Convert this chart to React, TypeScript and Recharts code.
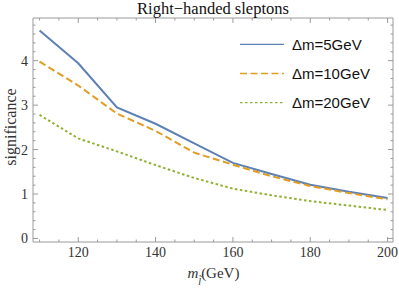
import React from "react";
import { LineChart, Line, XAxis, YAxis, Legend } from "recharts";

const masses = [110, 120, 130, 140, 150, 160, 170, 180, 190, 200];
const dm5 = [4.68, 3.94, 2.95, 2.58, 2.14, 1.7, 1.45, 1.21, 1.05, 0.91];
const dm10 = [3.98, 3.44, 2.81, 2.42, 1.93, 1.66, 1.4, 1.18, 1.02, 0.88];
const dm20 = [2.78, 2.25, 1.96, 1.65, 1.36, 1.12, 0.97, 0.84, 0.74, 0.64];

const xMajor = [120, 140, 160, 180, 200];
const xMinor = [110, 115, 125, 130, 135, 145, 150, 155, 165, 170, 175, 185, 190, 195];
const yMajor = [0, 1, 2, 3, 4];
const yMinor = [0.2, 0.4, 0.6, 0.8, 1.2, 1.4, 1.6, 1.8, 2.2, 2.4, 2.6, 2.8, 3.2, 3.4, 3.6, 3.8, 4.2, 4.4, 4.6, 4.8];

const seriesNames = ["Δm=5GeV", "Δm=10GeV", "Δm=20GeV"];
const seriesColors = ["#5E81B5", "#E19C24", "#8FB032"];
const seriesDash = ["", "7 3.5", "2.5 2.5"];
const titleText = "Right\u2212handed sleptons";
const yLabelText = "significance";

const data = masses.map((m, i) => ({ m, a: dm5[i], b: dm10[i], c: dm20[i] }));

const FRAME = "#9a9a9a";
const TICKTXT = "#333";
const SERIF = "'Liberation Serif', 'DejaVu Serif', serif";
const SANS = "'Liberation Sans', Arial, sans-serif";

const xTicks = [...xMajor, ...xMinor].sort((a, b) => a - b);
const yTicks = [...yMajor, ...yMinor].sort((a, b) => a - b);

const makeTick = (side: "bottom" | "top" | "left" | "right") => (props: any) => {
  const { x, y, payload } = props;
  const v = payload.value;
  const isMajor = side === "bottom" || side === "top" ? xMajor.includes(v) : yMajor.includes(v);
  const len = isMajor ? 5 : 2.5;
  let line;
  if (side === "bottom") line = <line x1={x} x2={x} y1={y} y2={y - len} stroke={FRAME} />;
  else if (side === "top") line = <line x1={x} x2={x} y1={y} y2={y + len} stroke={FRAME} />;
  else if (side === "left") line = <line x1={x} x2={x + len} y1={y} y2={y} stroke={FRAME} />;
  else line = <line x1={x} x2={x - len} y1={y} y2={y} stroke={FRAME} />;
  let label = null;
  if (isMajor && side === "bottom")
    label = (
      <text x={x} y={y + 14.8} textAnchor="middle" fontFamily={SERIF} fontSize={14} fill={TICKTXT}>
        {v}
      </text>
    );
  if (isMajor && side === "left")
    label = (
      <text x={x - 5} y={y + 5} textAnchor="end" fontFamily={SERIF} fontSize={14} fill={TICKTXT}>
        {v}
      </text>
    );
  return (
    <g>
      {line}
      {label}
    </g>
  );
};

const XLabel = (props: any) => {
  const vb = props.viewBox || {};
  const cx = (vb.x || 0) + (vb.width || 0) / 2;
  const y = (vb.y || 0) + 36;
  return (
    <text x={cx - 25.5} y={y} fontFamily={SERIF} fontSize={15} fill={TICKTXT}>
      <tspan fontStyle="italic">m</tspan>
      <tspan fontStyle="italic" fontSize={10} dy={7}>{"l\u0303"}</tspan>
      <tspan dy={-7}>(GeV)</tspan>
    </text>
  );
};

const YLabel = (props: any) => {
  const vb = props.viewBox || {};
  const cy = (vb.y || 0) + (vb.height || 0) / 2 - 3;
  return (
    <text
      x={0}
      y={0}
      transform={`translate(16, ${cy}) rotate(-90)`}
      textAnchor="middle"
      fontFamily={SERIF}
      fontSize={16}
      fill={TICKTXT}
    >
      {yLabelText}
    </text>
  );
};

const Overlay = () => (
  <svg width={399} height={290} style={{ position: "absolute", left: 0, top: 0, pointerEvents: "none" }}>
    <text x={213} y={14} textAnchor="middle" fontFamily={SERIF} fontSize={16.5} fill="#111">
      {titleText}
    </text>
    {seriesNames.map((n, i) => (
      <g key={n}>
        <line
          x1={240}
          x2={284}
          y1={44.3 + i * 29.2}
          y2={44.3 + i * 29.2}
          stroke={seriesColors[i]}
          strokeWidth={1.3}
          strokeDasharray={seriesDash[i] || undefined}
        />
        <text x={292} y={49.5 + i * 29.2} fontFamily={SANS} fontSize={15} fill="#111">
          {n}
        </text>
      </g>
    ))}
  </svg>
);

export default function App() {
  return (
    <div style={{ position: "absolute", left: 0, top: 0, width: 399, height: 290 }}>
      <LineChart width={399} height={290} data={data} margin={{ top: 17, right: 5, bottom: 47, left: 32 }}>
        <XAxis
          dataKey="m"
          type="number"
          domain={[108.3, 201.4]}
          allowDataOverflow
          ticks={xTicks}
          interval={0}
          tickSize={0}
          tickMargin={0}
          tickLine={false}
          height={1}
          axisLine={{ stroke: FRAME }}
          tick={makeTick("bottom")}
          label={<XLabel />}
        />
        <XAxis
          xAxisId="top"
          orientation="top"
          dataKey="m"
          type="number"
          domain={[108.3, 201.4]}
          allowDataOverflow
          ticks={xTicks}
          interval={0}
          tickSize={0}
          tickMargin={0}
          tickLine={false}
          height={1}
          axisLine={{ stroke: FRAME }}
          tick={makeTick("top")}
        />
        <YAxis
          type="number"
          domain={[-0.08, 4.96]}
          allowDataOverflow
          ticks={yTicks}
          interval={0}
          tickSize={0}
          tickMargin={0}
          tickLine={false}
          width={1}
          axisLine={{ stroke: FRAME }}
          tick={makeTick("left")}
          label={<YLabel />}
        />
        <YAxis
          yAxisId="right"
          orientation="right"
          type="number"
          domain={[-0.08, 4.96]}
          allowDataOverflow
          ticks={yTicks}
          interval={0}
          tickSize={0}
          tickMargin={0}
          tickLine={false}
          width={1}
          axisLine={{ stroke: FRAME }}
          tick={makeTick("right")}
        />
        <Line dataKey="a" name={seriesNames[0]} stroke={seriesColors[0]} strokeWidth={2} dot={false} isAnimationActive={false} />
        <Line dataKey="b" name={seriesNames[1]} stroke={seriesColors[1]} strokeWidth={2} strokeDasharray={seriesDash[1]} dot={false} isAnimationActive={false} />
        <Line dataKey="c" name={seriesNames[2]} stroke={seriesColors[2]} strokeWidth={2} strokeDasharray={seriesDash[2]} dot={false} isAnimationActive={false} />
        <Legend
          layout="vertical"
          align="center"
          verticalAlign="middle"
          content={() => <Overlay />}
          wrapperStyle={{ position: "absolute", left: 0, top: 0, width: 399, height: 290 }}
        />
      </LineChart>
    </div>
  );
}
